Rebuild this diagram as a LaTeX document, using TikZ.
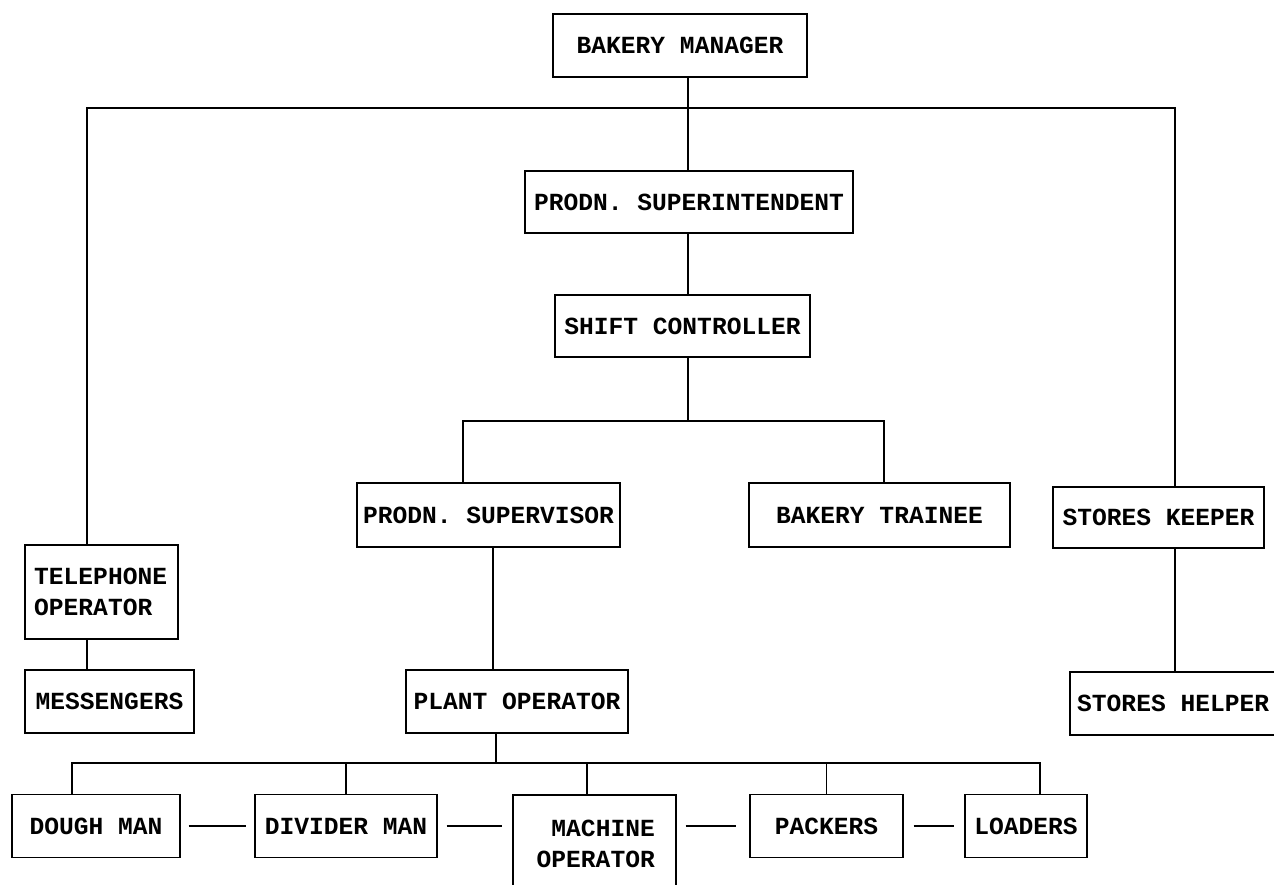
\documentclass[tikz,border=0pt]{standalone}
\usepackage{fontspec}
\setmonofont{Liberation Mono}
\usetikzlibrary{calc}
\begin{document}
\begin{tikzpicture}[x=1pt,y=-1pt,
  box/.style={draw, line width=1.4pt, inner sep=0pt, font=\ttfamily\bfseries\fontsize{24.6pt}{31pt}\selectfont},
  txt/.style={inner sep=0pt, font=\ttfamily\bfseries\fontsize{24.6pt}{31pt}\selectfont},
  link/.style={line width=1.4pt}]
\useasboundingbox (0,0) rectangle (1274,884);
\clip (0,0) rectangle (1274,884);
% boxes
\node[box, minimum width=254pt, minimum height=63pt] (bm) at (680,45.5) {BAKERY MANAGER};
\node[box, minimum width=328pt, minimum height=62pt] (ps) at (689,202) {PRODN. SUPERINTENDENT};
\node[box, minimum width=255pt, minimum height=62pt] (sc) at (682.5,326) {SHIFT CONTROLLER};
\node[box, minimum width=263pt, minimum height=64pt] (sup) at (488.5,515) {PRODN. SUPERVISOR};
\node[box, minimum width=261pt, minimum height=64pt] (bt) at (879.5,515) {BAKERY TRAINEE};
\node[box, minimum width=211pt, minimum height=61pt] (sk) at (1158.5,517.5) {STORES KEEPER};
\node[box, minimum width=153pt, minimum height=94pt] (tel) at (101.5,592) {};
\node[txt, anchor=west, align=left] (telt) at (34,592) {TELEPHONE\\OPERATOR};
\node[box, minimum width=169pt, minimum height=63pt] (msg) at (109.5,701.5) {MESSENGERS};
\node[box, minimum width=222pt, minimum height=63pt] (po) at (517,701.5) {PLANT OPERATOR};
\node[box, minimum width=230pt, minimum height=63pt] (sh) at (1185,703.5) {};
\node[txt, anchor=west] (sht) at (1077,703.5) {STORES HELPER};
\node[box, minimum width=168pt, minimum height=63pt] (dm) at (96,826) {DOUGH MAN};
\node[box, minimum width=182pt, minimum height=63pt] (dv) at (346,826) {DIVIDER MAN};
\node[box, minimum width=163pt, minimum height=120pt] (mo) at (594.5,855) {};
\node[txt, anchor=east, align=right] (mot) at (655,843.5) {MACHINE\\OPERATOR};
\node[box, minimum width=153pt, minimum height=63pt] (pk) at (826.5,826) {PACKERS};
\node[box, minimum width=122pt, minimum height=63pt] (ld) at (1026,826) {LOADERS};
% junction coordinates
\coordinate (tl) at (87,108);
\coordinate (tm) at (688,108);
\coordinate (tr) at (1175,108);
\coordinate (j1) at (688,421);
\coordinate (jl) at (463,421);
\coordinate (jr) at (884,421);
\coordinate (sv) at (493,600);
\coordinate (j2) at (496,763);
\coordinate (bl) at (72,763);
\coordinate (bm2) at (587,763);
\coordinate (bb) at (1040,763);
% connectors
\draw[link] (bm.south -| tm) -- (ps.north -| tm);
\draw[link] (tel.north -| tl) -- (tl) -- (tr) -- (sk.north -| tr);
\draw[link] (ps.south -| tm) -- (sc.north -| tm);
\draw[link] (sc.south -| j1) -- (j1);
\draw[link] (sup.north -| jl) -- (jl) -- (jr) -- (bt.north -| jr);
\draw[link] (sup.south -| sv) -- (po.north -| sv);
\draw[link] (tel.south -| tl) -- (msg.north -| tl);
\draw[link] (sk.south -| tr) -- (sh.north -| tr);
\draw[link] (po.south -| j2) -- (j2);
\draw[link] (dm.north -| bl) -- (bl) -- (bb) -- (ld.north -| bb);
\draw[link] (dv.north) -- (dv.north |- bl);
\draw[link] (mo.north -| bm2) -- (bm2);
\draw[link] (pk.north) -- (pk.north |- bl);
\draw[link, shorten <=8pt, shorten >=8pt] (dm.east) -- (dv.west);
\draw[link, shorten <=9pt, shorten >=10pt] (dv.east) -- (dv.east -| mo.west);
\draw[link, shorten <=9pt, shorten >=13pt] (dv.east -| mo.east) -- (pk.west);
\draw[link, shorten <=10pt, shorten >=10pt] (pk.east) -- (ld.west);
\end{tikzpicture}
\end{document}
